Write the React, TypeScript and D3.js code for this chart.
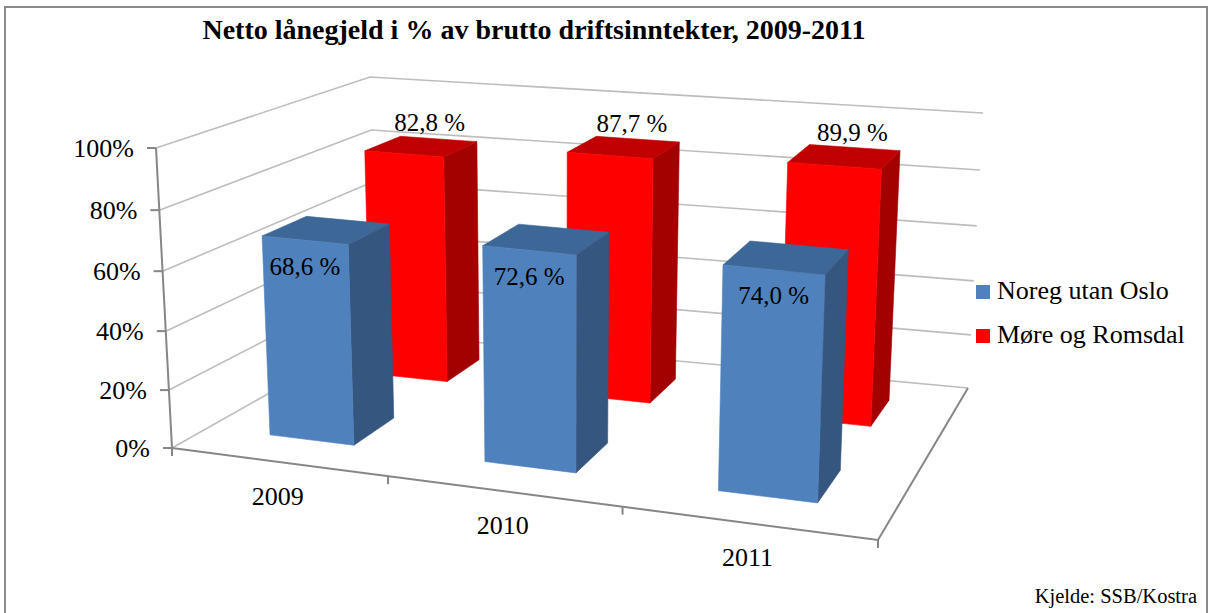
import * as d3 from "d3"

type Pt = [number, number]

const TITLE = "Netto lånegjeld i % av brutto driftsinntekter, 2009-2011"
const SOURCE = "Kjelde: SSB/Kostra"
const YEARS = ["2009", "2010", "2011"]
const SERIES = ["Noreg utan Oslo", "Møre og Romsdal"]
const NOREG = [68.6, 72.6, 74.0]
const MORE = [82.8, 87.7, 89.9]
const Y_TICKS = [0, 20, 40, 60, 80, 100]

const W = 1211
const H = 613
const FONT = "Liberation Serif, Times New Roman, DejaVu Serif, serif"
const GRID = "#bdbdbd"
const AXIS = "#868686"

// Screen position of the 8 corners of the plot cube, key = x y z (0 = left / bottom / front).
const BOX: Record<string, Pt> = {
  "000": [172, 448],
  "010": [156, 148],
  "001": [376, 333],
  "011": [370, 77],
  "100": [878, 540],
  "110": [891, 217],
  "101": [968, 388],
  "111": [983, 113],
}

// 1-D perspective warp: k < 1 squeezes the far end, k > 1 the near end.
const warp = (k: number) => (t: number) => t / (k - (k - 1) * t)
const wx = warp(1.134)
const wy = warp(1.045)
const wz = warp(0.8)

function project(x: number, y: number, z: number): Pt {
  const u = wx(x)
  const w = wy(y)
  const v = wz(z)
  let px = 0
  let py = 0
  for (const i of [0, 1])
    for (const j of [0, 1])
      for (const k of [0, 1]) {
        const wt = (i ? u : 1 - u) * (j ? w : 1 - w) * (k ? v : 1 - v)
        const c = BOX[`${i}${j}${k}`]
        px += wt * c[0]
        py += wt * c[1]
      }
  return [px, py]
}

const FACES = [
  { front: "#4F81BD", top: "#3D6796", side: "#34567F" },
  { front: "#FF0000", top: "#C00000", side: "#A30000" },
]

export default function App() {
  const values = [NOREG, MORE]
  const x = d3.scaleBand().domain(YEARS).range([0, 1]).paddingInner(0.6).paddingOuter(0.3)
  const z = d3.scaleBand().domain(SERIES).range([0, 1]).paddingInner(0.6).paddingOuter(0.3)
  const y = d3.scaleLinear().domain([0, 100]).range([0, 1])
  const line = d3.line()
  const poly = (pts: Pt[]) => (line(pts) ?? "") + "Z"
  const fmt = d3
    .formatLocale({ decimal: ",", thousands: " ", grouping: [3], currency: ["", " kr"] })
    .format(".1f")

  // back row first so the front row paints over it
  const order = [1, 0]
  const txt = { fontFamily: FONT, fill: "#000" }

  return (
    <div style={{ position: "absolute", left: 0, top: 0 }}>
      <svg width={W} height={H} style={{ display: "block", background: "#fff" }}>
        <rect x={5} y={7} width={1202} height={640} fill="#fff" stroke="#8a8a8a" strokeWidth={2} />

        <text x={534} y={39} textAnchor="middle" fontSize={28} fontWeight="bold" style={txt}>
          {TITLE}
        </text>

        {/* walls: gridlines on left wall and back wall */}
        <g fill="none" stroke={GRID} strokeWidth={1.6}>
          {Y_TICKS.map((t) => (
            <path
              key={t}
              d={line([project(0, y(t), 0), project(0, y(t), 1), project(1, y(t), 1)]) ?? ""}
            />
          ))}
        </g>

        {/* floor front + right edge, value axis */}
        <g fill="none" stroke={AXIS} strokeWidth={2}>
          <path d={line([project(0, 0, 0), project(1, 0, 0), project(1, 0, 1)]) ?? ""} />
          <path d={line([project(0, 0, 0), project(0, 1, 0)]) ?? ""} />
          {Y_TICKS.map((t) => {
            const [px, py] = project(0, y(t), 0)
            return <path key={t} d={`M${px - 9},${py}H${px}`} />
          })}
          {[0, 1, 2, 3].map((i) => {
            const [px, py] = project(i / 3, 0, 0)
            return <path key={i} d={`M${px},${py}V${py + 8}`} />
          })}
        </g>

        <g fontSize={26} textAnchor="end" style={txt}>
          {Y_TICKS.map((t) => {
            const [px, py] = project(0, y(t), 0)
            return (
              <text key={t} x={px - 22} y={py} dy="0.34em" style={txt}>
                {t}%
              </text>
            )
          })}
        </g>

        <g fontSize={26} textAnchor="middle" style={txt}>
          {YEARS.map((yr) => {
            const [px, py] = project((x(yr) ?? 0) + x.bandwidth() / 2, 0, 0)
            return (
              <text key={yr} x={px} y={py + 34} dy="0.34em" style={txt}>
                {yr}
              </text>
            )
          })}
        </g>

        {/* bars */}
        {order.map((si) => {
          const z0 = z(SERIES[si]) ?? 0
          const z1 = z0 + z.bandwidth()
          const c = FACES[si]
          return (
            <g key={si} strokeWidth={0.6}>
              {YEARS.map((yr, i) => {
                const x0 = x(yr) ?? 0
                const x1 = x0 + x.bandwidth()
                const v = y(values[si][i])
                return (
                  <g key={yr}>
                    <path
                      d={poly([project(x1, 0, z0), project(x1, 0, z1), project(x1, v, z1), project(x1, v, z0)])}
                      fill={c.side}
                      stroke={c.side}
                    />
                    <path
                      d={poly([project(x0, v, z0), project(x1, v, z0), project(x1, v, z1), project(x0, v, z1)])}
                      fill={c.top}
                      stroke={c.top}
                    />
                    <path
                      d={poly([project(x0, 0, z0), project(x1, 0, z0), project(x1, v, z0), project(x0, v, z0)])}
                      fill={c.front}
                      stroke={c.front}
                    />
                  </g>
                )
              })}
            </g>
          )
        })}

        {/* data labels */}
        <g fontSize={25} textAnchor="middle" style={txt}>
          {YEARS.map((yr, i) => {
            const xc = (x(yr) ?? 0) + x.bandwidth() / 2
            const v = y(NOREG[i])
            const [px, py] = project(xc, v, z(SERIES[0]) ?? 0)
            return (
              <text key={yr} x={px} y={py + 26} dy="0.34em" style={txt}>
                {fmt(NOREG[i])} %
              </text>
            )
          })}
          {YEARS.map((yr, i) => {
            const xc = (x(yr) ?? 0) + x.bandwidth() / 2
            const zc = (z(SERIES[1]) ?? 0) + z.bandwidth() / 2
            const [px, py] = project(xc, y(MORE[i]), zc)
            return (
              <text key={yr} x={px + 8} y={py - 24} dy="0.34em" style={txt}>
                {fmt(MORE[i])} %
              </text>
            )
          })}
        </g>

        {/* legend */}
        <g fontSize={26} style={txt}>
          {SERIES.map((s, i) => (
            <g key={s} transform={`translate(976, ${285 + i * 44})`}>
              <rect width={14} height={14} fill={FACES[i].front} />
              <text x={21} y={14} style={txt}>
                {s}
              </text>
            </g>
          ))}
        </g>

        <text x={1197} y={603} fontSize={20.5} textAnchor="end" style={txt}>
          {SOURCE}
        </text>
      </svg>
    </div>
  )
}
